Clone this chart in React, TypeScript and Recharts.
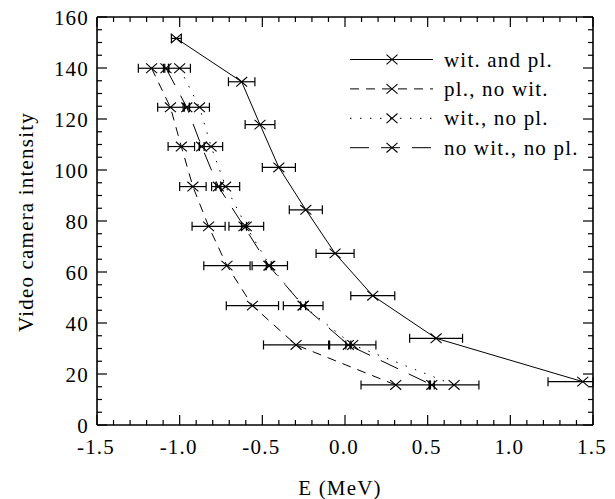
import React from 'react';
import { ComposedChart, Scatter, XAxis, YAxis, ErrorBar, ReferenceLine } from 'recharts';

// ---- data ----
const witPlX = [-1.02, -0.625, -0.514, -0.4, -0.237, -0.06, 0.168, 0.551, 1.438];
const witPlY = [151.6, 134.6, 117.8, 101.0, 84.4, 67.3, 50.7, 34.0, 17.0];
const witPlErr = [0.03, 0.08, 0.09, 0.1, 0.1, 0.115, 0.133, 0.16, 0.21];

const rowY = [139.9, 124.6, 109.2, 93.5, 77.9, 62.5, 46.8, 31.4, 15.7];

const plNoWitX = [-1.17, -1.056, -0.99, -0.92, -0.825, -0.714, -0.56, -0.296, 0.307];
const plNoWitErr = [0.08, 0.077, 0.08, 0.08, 0.1, 0.14, 0.158, 0.197, 0.21];

const witNoPlX = [-1.0, -0.88, -0.81, -0.722, -0.597, -0.455, -0.253, 0.047, 0.66];
const witNoPlErr = [0.065, 0.06, 0.07, 0.085, 0.105, 0.107, 0.12, 0.14, 0.15];

const noWitNoPlX = [-1.083, -0.957, -0.867, -0.766, -0.611, -0.461, -0.253, 0.02, 0.525];
const noWitNoPlErr = [0.015, 0.015, 0.015, 0.015, 0.015, 0.015, 0.015, 0.015, 0.015];

const seriesNames = ['wit. and pl.', 'pl., no wit.', 'wit., no pl.', 'no wit., no pl.'];

const xTicks = [-1.5, -1.4, -1.3, -1.2, -1.1, -1.0, -0.9, -0.8, -0.7, -0.6, -0.5, -0.4, -0.3, -0.2, -0.1, 0,
  0.1, 0.2, 0.3, 0.4, 0.5, 0.6, 0.7, 0.8, 0.9, 1.0, 1.1, 1.2, 1.3, 1.4, 1.5];
const xMajorTicks = [-1.5, -1.0, -0.5, 0, 0.5, 1.0, 1.5];
const yTicks = [0, 5, 10, 15, 20, 25, 30, 35, 40, 45, 50, 55, 60, 65, 70, 75, 80, 85, 90, 95, 100,
  105, 110, 115, 120, 125, 130, 135, 140, 145, 150, 155, 160];
const yMajorTicks = [0, 20, 40, 60, 80, 100, 120, 140, 160];

const xTitle = 'E (MeV)';
const yTitle = 'Video camera intensity';

const X_MIN = -1.5;
const X_MAX = 1.5;
const Y_MIN = 0;
const Y_MAX = 160;

const build = (xs: number[], ys: number[], errs: number[]) =>
  xs.map((x, i) => ({
    x,
    y: ys[i],
    err: [Math.min(errs[i], x - X_MIN), Math.min(errs[i], X_MAX - x)],
  }));

const seriesData = [
  build(witPlX, witPlY, witPlErr),
  build(plNoWitX, rowY, plNoWitErr),
  build(witNoPlX, rowY, witNoPlErr),
  build(noWitNoPlX, rowY, noWitNoPlErr),
];

// ---- layout & styles ----
const W = 615;
const H = 499;
const MARGIN = { top: 12, right: 17, bottom: 34, left: 37 };
const TOP_AXIS_H = 5;
const RIGHT_AXIS_W = 5;
const BOTTOM_AXIS_H = 40;
const LEFT_AXIS_W = 60;
const PLOT_W = W - MARGIN.left - MARGIN.right - LEFT_AXIS_W - RIGHT_AXIS_W;
const PLOT_H = H - MARGIN.top - MARGIN.bottom - TOP_AXIS_H - BOTTOM_AXIS_H;
const MAJOR_PX = 10;
const MINOR_PX = 5;
const pxToY = (px: number) => (px * (Y_MAX - Y_MIN)) / PLOT_H;
const pxToX = (px: number) => (px * (X_MAX - X_MIN)) / PLOT_W;

const dashes = [undefined, '9 7', '1.5 8.5', '19 12'];
const tickStroke = { stroke: '#000', strokeWidth: 1.2 };

const isMajor = (v: number, majors: number[]) => majors.some((m) => Math.abs(m - v) < 1e-6);

const XMark = (props: any) => {
  const { cx, cy } = props;
  if (cx == null || cy == null) return null;
  const sx = 5.5;
  const sy = 4.8;
  return (
    <path
      d={`M${cx - sx},${cy - sy}L${cx + sx},${cy + sy}M${cx - sx},${cy + sy}L${cx + sx},${cy - sy}`}
      stroke="#000"
      strokeWidth={1.1}
      fill="none"
    />
  );
};

const T = (p: { x: number; y: number; anchor?: string; children: React.ReactNode; rotate?: boolean }) => (
  <text
    x={p.x}
    y={p.y}
    textAnchor={p.anchor || 'start'}
    transform={p.rotate ? `rotate(-90 ${p.x} ${p.y})` : undefined}
    fontFamily="Liberation Serif"
    fontSize={21}
    fill="#000"
    style={{ fontFamily: '"Liberation Serif"', fontSize: 21, letterSpacing: 1.2 }}
  >
    {p.children}
  </text>
);

const XTickLabel = (props: any) => {
  const { x, y, payload } = props;
  const v = payload.value;
  return isMajor(v, xMajorTicks) ? <T x={x - 1} y={y + 29} anchor="middle">{v.toFixed(1)}</T> : <g />;
};

const YTickLabel = (props: any) => {
  const { x, y, payload } = props;
  const v = payload.value;
  return isMajor(v, yMajorTicks) ? <T x={x - 8} y={y + 7.5} anchor="end">{String(v)}</T> : <g />;
};

const frameLine = { stroke: '#000', strokeWidth: 1.6 };

const Overlay = () => (
  <svg width={W} height={H} style={{ position: 'absolute', left: 0, top: 0, pointerEvents: 'none' }}>
    <T x={340} y={495} anchor="middle">{xTitle}</T>
    <T x={33} y={222} anchor="middle" rotate>{yTitle}</T>
    {seriesNames.map((name, i) => {
      const y = 59.5 + 29.4 * i;
      return (
        <g key={name}>
          <line x1={350} x2={433} y1={y} y2={y} stroke="#000" strokeWidth={1} strokeDasharray={dashes[i]} />
          <XMark cx={392} cy={y} />
          <T x={444} y={y + 7}>{name}</T>
        </g>
      );
    })}
  </svg>
);

export default function App() {
  return (
    <div style={{ position: 'absolute', left: 0, top: 0, width: W, height: H }}>
      <ComposedChart width={W} height={H} margin={MARGIN}>
        <XAxis
          dataKey="x"
          type="number"
          domain={[X_MIN, X_MAX]}
          allowDataOverflow
          ticks={xTicks}
          interval={0}
          height={BOTTOM_AXIS_H}
          tickSize={0}
          tickMargin={0}
          tickLine={false}
          axisLine={frameLine}
          tick={(p: any) => <XTickLabel {...p} />}
        />
        <XAxis
          xAxisId="top"
          orientation="top"
          dataKey="x"
          type="number"
          domain={[X_MIN, X_MAX]}
          allowDataOverflow
          height={TOP_AXIS_H}
          tick={false}
          tickLine={false}
          axisLine={frameLine}
        />
        <YAxis
          dataKey="y"
          type="number"
          domain={[Y_MIN, Y_MAX]}
          allowDataOverflow
          ticks={yTicks}
          interval={0}
          width={LEFT_AXIS_W}
          tickSize={0}
          tickMargin={0}
          tickLine={false}
          axisLine={frameLine}
          tick={(p: any) => <YTickLabel {...p} />}
        />
        <YAxis
          yAxisId="right"
          orientation="right"
          dataKey="y"
          type="number"
          domain={[Y_MIN, Y_MAX]}
          allowDataOverflow
          width={RIGHT_AXIS_W}
          tick={false}
          tickLine={false}
          axisLine={frameLine}
        />
        {xTicks.map((v) => {
          const len = pxToY(isMajor(v, xMajorTicks) ? MAJOR_PX : MINOR_PX);
          return (
            <React.Fragment key={`xt${v}`}>
              <ReferenceLine segment={[{ x: v, y: Y_MIN }, { x: v, y: Y_MIN + len }]} {...tickStroke} ifOverflow="visible" />
              <ReferenceLine segment={[{ x: v, y: Y_MAX }, { x: v, y: Y_MAX - len }]} {...tickStroke} ifOverflow="visible" />
            </React.Fragment>
          );
        })}
        {yTicks.map((v) => {
          const len = pxToX(isMajor(v, yMajorTicks) ? MAJOR_PX : MINOR_PX);
          return (
            <React.Fragment key={`yt${v}`}>
              <ReferenceLine segment={[{ x: X_MIN, y: v }, { x: X_MIN + len, y: v }]} {...tickStroke} ifOverflow="visible" />
              <ReferenceLine segment={[{ x: X_MAX, y: v }, { x: X_MAX - len, y: v }]} {...tickStroke} ifOverflow="visible" />
            </React.Fragment>
          );
        })}
        {seriesData.map((d, i) => (
          <Scatter
            key={seriesNames[i]}
            name={seriesNames[i]}
            data={d}
            isAnimationActive={false}
            line={{ stroke: '#000', strokeWidth: 1, strokeDasharray: dashes[i] }}
            lineType="joint"
            shape={<XMark />}
          >
            <ErrorBar dataKey="err" direction="x" width={4.5} stroke="#000" strokeWidth={1.2} />
          </Scatter>
        ))}
      </ComposedChart>
      <Overlay />
    </div>
  );
}
